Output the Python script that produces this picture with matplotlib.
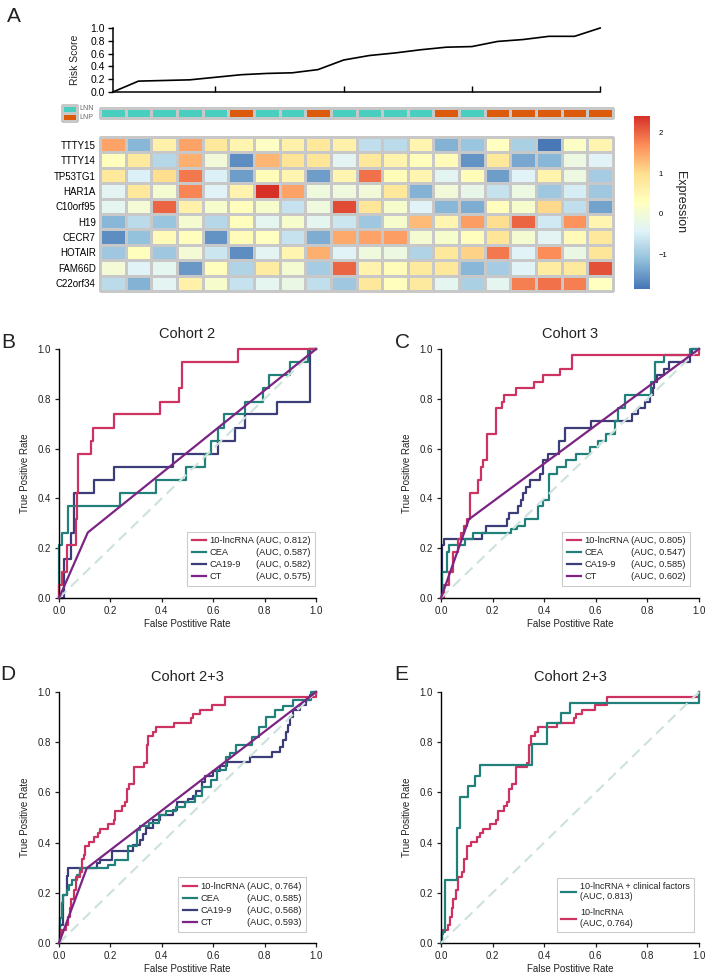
import numpy as np
import matplotlib
matplotlib.use("Agg")
import matplotlib.pyplot as plt
from matplotlib.colors import LinearSegmentedColormap, ListedColormap
from matplotlib.lines import Line2D
from matplotlib.ticker import FormatStrFormatter

plt.rcParams['font.family'] = ['Liberation Sans', 'DejaVu Sans']
plt.rcParams['text.color'] = '#222222'
plt.rcParams['axes.labelcolor'] = '#222222'

# ---------------- data : panel A ----------------
genes = ['TTTY15', 'TTTY14', 'TP53TG1', 'HAR1A', 'C10orf95',
         'H19', 'CECR7', 'HOTAIR', 'FAM66D', 'C22orf34']
groups = ['LNN'] * 5 + ['LNP'] + ['LNN'] * 2 + ['LNP'] + ['LNN'] * 4 + \
         ['LNP'] + ['LNN'] + ['LNP'] * 5
risk_score = [0.00, 0.17, 0.18, 0.19, 0.23, 0.27, 0.29, 0.30, 0.35, 0.50,
              0.57, 0.61, 0.66, 0.70, 0.71, 0.79, 0.82, 0.87, 0.87, 1.00]
expression = [
    [1.5, -1.2, 0.6, 1.5, 0.8, 0.5, 0.2, 0.6, 0.8, 0.6, -0.7, -0.75, 0.5, -1.25, -1.05, 0.25, -0.9, -1.8, 0.2, 0.5],
    [0.3, 0.75, -0.8, 1.4, -0.05, -1.6, 1.35, 0.9, 0.85, -0.35, 0.8, 0.55, 0.3, 0.35, -1.55, 0.8, -1.35, -1.2, -0.15, -0.4],
    [0.8, -0.45, 1.0, 1.85, -0.45, -1.45, 0.35, 0.5, -1.45, 0.5, 1.9, 0.35, 0.5, -0.35, 0.35, -1.45, -0.4, 0.55, -0.15, -0.95],
    [-0.35, 0.8, 0.05, 1.75, -0.4, 0.55, 2.4, 1.5, -0.1, -0.1, -0.05, 0.8, -1.25, -0.05, -0.25, -0.65, -0.15, -1.0, -0.5, -1.0],
    [-0.3, 0.0, 2.0, 0.6, 0.1, 0.3, 0.1, -0.65, -0.1, 2.2, 0.85, 0.1, -0.4, -1.2, -1.3, 0.3, 0.1, 1.05, -0.7, -1.4],
    [-1.2, -0.75, -1.05, 0.05, -0.8, 0.3, -0.3, 0.1, -0.3, -0.6, -1.0, 0.1, 1.3, 0.5, 1.55, 1.0, 2.0, -0.55, 1.65, 0.5],
    [-1.6, -1.1, 0.4, 0.3, -1.55, 0.35, 0.25, -0.65, -1.3, 1.45, 1.5, 1.55, 0.05, 0.1, 0.3, 0.85, 0.05, -0.35, 0.4, 0.8],
    [-1.0, 0.3, -1.0, 0.0, -0.6, -1.6, -0.35, 0.5, 1.4, -0.4, -0.1, -0.15, -0.85, 0.8, 1.1, 1.85, -0.4, 1.7, -0.2, 0.85],
    [0.0, -0.4, -0.3, -1.5, 0.3, -0.85, 0.7, 0.05, -0.95, 2.0, 0.55, 0.35, 0.75, 0.8, -1.2, -0.95, -0.4, 0.7, 0.75, 2.15],
    [-0.75, -1.25, -0.35, 0.6, 0.1, -0.65, -0.3, -0.2, -0.7, -1.0, 0.8, 0.3, 0.75, -0.3, -0.9, -0.3, 1.8, 1.9, 1.8, 0.25],
]
expr_min, expr_max = -1.84, 2.40
cbar_ticks = [-1, 0, 1, 2]
risk_xticks = [4, 9, 14, 19]

# ---------------- data : ROC curves ----------------
c2_lnc_fpr = [0.0, 0.0, 0.010, 0.030, 0.066, 0.070, 0.073, 0.123, 0.134, 0.215, 0.393, 0.467, 0.477, 0.695, 1.0]
c2_lnc_tpr = [0.0, 0.053, 0.105, 0.211, 0.316, 0.421, 0.579, 0.632, 0.684, 0.737, 0.789, 0.842, 0.947, 1.0, 1.0]
c2_cea_fpr = [0.0, 0.0, 0.010, 0.036, 0.237, 0.376, 0.493, 0.568, 0.590, 0.620, 0.642, 0.724, 0.795, 0.818, 0.899, 0.970, 1.0]
c2_cea_tpr = [0.0, 0.211, 0.263, 0.368, 0.421, 0.474, 0.526, 0.579, 0.632, 0.684, 0.737, 0.789, 0.842, 0.895, 0.947, 1.0, 1.0]
c2_ca_fpr = [0.0, 0.021, 0.047, 0.058, 0.137, 0.215, 0.442, 0.620, 0.685, 0.724, 0.847, 0.977, 1.0]
c2_ca_tpr = [0.0, 0.158, 0.263, 0.421, 0.474, 0.526, 0.579, 0.632, 0.684, 0.737, 0.789, 1.0, 1.0]
c2_ct_fpr = [0.0, 0.112, 1.0]
c2_ct_tpr = [0.0, 0.263, 1.0]

c3_lnc_fpr = [0.0, 0.013, 0.032, 0.045, 0.067, 0.077, 0.089, 0.099, 0.112, 0.145, 0.154, 0.164, 0.179, 0.212, 0.235, 0.245, 0.290, 0.361, 0.394, 0.461, 0.506, 1.0]
c3_lnc_tpr = [0.0, 0.053, 0.105, 0.184, 0.237, 0.263, 0.289, 0.316, 0.421, 0.474, 0.526, 0.553, 0.658, 0.763, 0.789, 0.816, 0.842, 0.868, 0.895, 0.921, 0.974, 1.0]
c3_cea_fpr = [0.0, 0.005, 0.022, 0.031, 0.093, 0.125, 0.270, 0.293, 0.325, 0.377, 0.394, 0.419, 0.448, 0.486, 0.525, 0.577, 0.609, 0.641, 0.674, 0.686, 0.712, 0.815, 0.828, 0.863, 0.964, 1.0]
c3_cea_tpr = [0.0, 0.105, 0.184, 0.211, 0.237, 0.263, 0.276, 0.289, 0.316, 0.368, 0.395, 0.500, 0.526, 0.553, 0.579, 0.605, 0.632, 0.658, 0.711, 0.763, 0.816, 0.868, 0.947, 0.974, 1.0, 1.0]
c3_ca_fpr = [0.0, 0.005, 0.012, 0.160, 0.176, 0.254, 0.264, 0.299, 0.312, 0.319, 0.329, 0.345, 0.384, 0.394, 0.415, 0.458, 0.480, 0.581, 0.742, 0.765, 0.790, 0.812, 0.820, 0.825, 0.839, 0.865, 0.884, 0.964, 0.971, 1.0]
c3_ca_tpr = [0.0, 0.211, 0.237, 0.263, 0.289, 0.316, 0.342, 0.368, 0.395, 0.421, 0.447, 0.474, 0.500, 0.553, 0.579, 0.632, 0.684, 0.711, 0.737, 0.763, 0.789, 0.816, 0.842, 0.868, 0.895, 0.921, 0.947, 0.974, 1.0, 1.0]
c3_ct_fpr = [0.0, 0.108, 1.0]
c3_ct_tpr = [0.0, 0.316, 1.0]

c23_lnc_fpr = [0.0, 0.003, 0.009, 0.028, 0.035, 0.041, 0.048, 0.058, 0.065, 0.080, 0.090, 0.099, 0.102, 0.115, 0.138, 0.151, 0.161, 0.190, 0.215, 0.219, 0.244, 0.257, 0.265, 0.274, 0.290, 0.332, 0.342, 0.348, 0.366, 0.377, 0.448, 0.515, 0.522, 0.547, 0.596, 0.645, 1.0]
c23_lnc_tpr = [0.0, 0.035, 0.053, 0.070, 0.105, 0.140, 0.175, 0.211, 0.263, 0.281, 0.333, 0.351, 0.386, 0.404, 0.421, 0.439, 0.456, 0.474, 0.491, 0.526, 0.544, 0.561, 0.614, 0.632, 0.702, 0.719, 0.789, 0.825, 0.842, 0.860, 0.877, 0.895, 0.912, 0.930, 0.947, 0.982, 1.0]
c23_cea_fpr = [0.0, 0.004, 0.010, 0.017, 0.030, 0.039, 0.049, 0.069, 0.082, 0.192, 0.218, 0.270, 0.302, 0.316, 0.350, 0.390, 0.416, 0.455, 0.490, 0.530, 0.555, 0.590, 0.615, 0.650, 0.667, 0.690, 0.750, 0.780, 0.807, 0.840, 0.870, 0.910, 0.980, 1.0]
c23_cea_tpr = [0.0, 0.100, 0.159, 0.193, 0.212, 0.232, 0.252, 0.272, 0.298, 0.312, 0.332, 0.385, 0.450, 0.465, 0.480, 0.510, 0.525, 0.540, 0.560, 0.585, 0.620, 0.650, 0.690, 0.740, 0.755, 0.790, 0.820, 0.860, 0.900, 0.930, 0.945, 0.970, 1.0, 1.0]
c23_ca_fpr = [0.0, 0.004, 0.017, 0.030, 0.036, 0.147, 0.160, 0.205, 0.288, 0.315, 0.328, 0.340, 0.367, 0.393, 0.445, 0.458, 0.503, 0.522, 0.535, 0.555, 0.568, 0.600, 0.626, 0.652, 0.743, 0.827, 0.860, 0.873, 0.883, 0.892, 0.899, 0.912, 0.938, 0.963, 0.976, 0.990, 1.0]
c23_ca_tpr = [0.0, 0.070, 0.190, 0.265, 0.300, 0.318, 0.332, 0.365, 0.390, 0.410, 0.435, 0.460, 0.490, 0.510, 0.530, 0.560, 0.575, 0.585, 0.605, 0.640, 0.665, 0.685, 0.705, 0.720, 0.740, 0.760, 0.780, 0.810, 0.840, 0.870, 0.900, 0.930, 0.950, 0.970, 0.990, 1.0, 1.0]
c23_ct_fpr = [0.0, 0.108, 1.0]
c23_ct_tpr = [0.0, 0.298, 1.0]
c23_comb_fpr = [0.0, 0.003, 0.015, 0.061, 0.074, 0.106, 0.132, 0.151, 0.351, 0.409, 0.467, 0.499, 1.0]
c23_comb_tpr = [0.0, 0.042, 0.250, 0.458, 0.583, 0.625, 0.667, 0.708, 0.792, 0.875, 0.917, 0.958, 1.0]

marker_names = ['10-lncRNA', 'CEA', 'CA19-9', 'CT']
auc_c2 = ['(AUC, 0.812)', '(AUC, 0.587)', '(AUC, 0.582)', '(AUC, 0.575)']
auc_c3 = ['(AUC, 0.805)', '(AUC, 0.547)', '(AUC, 0.585)', '(AUC, 0.602)']
auc_c23 = ['(AUC, 0.764)', '(AUC, 0.585)', '(AUC, 0.568)', '(AUC, 0.593)']
labels_e = ['10-lncRNA + clinical factors\n(AUC, 0.813)', '10-lncRNA\n(AUC, 0.764)']

# ---------------- styles ----------------
C_LNC = '#cc3360'
C_CEA = '#21807a'
C_CA = '#3c3c78'
C_CT = '#7b2483'
C_DIAG = '#cde2dc'
C_LNN = '#48cfbf'
C_LNP = '#db5a0b'
GRID = '#c8c8c8'

W, H = 708, 975
fig = plt.figure(figsize=(W / 100, H / 100), dpi=100)


def add_ax(l, t, r, b):
    return fig.add_axes([l / W, 1 - b / H, (r - l) / W, (b - t) / H])


# ---------------- panel A ----------------
n = len(risk_score)
ax_r = add_ax(112.8, 28, 600.2, 92)
ax_r.plot(np.arange(n), risk_score, color='black', lw=1.2, clip_on=False)
ax_r.set_xlim(0, n - 1)
ax_r.set_ylim(0, 1.0)
ax_r.set_xticks(risk_xticks)
ax_r.set_xticklabels([])
ax_r.set_yticks(np.linspace(0, 1, 6))
ax_r.yaxis.set_major_formatter(FormatStrFormatter('%.1f'))
ax_r.tick_params(axis='x', direction='in', length=4, width=1)
ax_r.tick_params(axis='y', direction='out', length=3.5, width=1, labelsize=7.5, pad=2)
for s in ['top', 'right']:
    ax_r.spines[s].set_visible(False)
for s in ['left', 'bottom']:
    ax_r.spines[s].set_linewidth(1.1)
ax_r.set_ylabel('Risk Score', fontsize=7.5, labelpad=8)

group_code = np.array([[0 if g == 'LNN' else 1 for g in groups]])
grp_cmap = ListedColormap([C_LNN, C_LNP])
ax_a = add_ax(100, 108, 613, 118)
m = ax_a.pcolormesh(group_code, cmap=grp_cmap, vmin=0, vmax=1, edgecolors=GRID, linewidth=1.0)
m.set_clip_on(False)
ax_a.set_xlim(0, n)
ax_a.set_axis_off()

ax_l = add_ax(62, 105, 77, 121)
ml = ax_l.pcolormesh(np.array([[0], [1]]), cmap=grp_cmap, vmin=0, vmax=1, edgecolors=GRID, linewidth=1.0)
ml.set_clip_on(False)
ax_l.set_ylim(2, 0)
ax_l.set_axis_off()
fig.text(79 / W, 1 - 108.5 / H, 'LNN', fontsize=5, color='#666666', va='center', ha='left')
fig.text(79 / W, 1 - 117.5 / H, 'LNP', fontsize=5, color='#666666', va='center', ha='left')

heat_cmap = LinearSegmentedColormap.from_list(
    'rdylbu_r', ['#4575B4', '#91BFDB', '#E0F3F8', '#FFFFBF', '#FEE090', '#FC8D59', '#D73027'])
ax_h = add_ax(100, 137, 613, 291)
mh = ax_h.pcolormesh(np.array(expression), cmap=heat_cmap, vmin=expr_min, vmax=expr_max,
                     edgecolors=GRID, linewidth=1.0)
mh.set_clip_on(False)
ax_h.set_xlim(0, n)
ax_h.set_ylim(len(genes), 0)
ax_h.set_yticks(np.arange(len(genes)) + 0.5)
ax_h.set_yticklabels(genes, fontsize=7)
ax_h.set_xticks([])
ax_h.tick_params(axis='y', length=0, pad=3)
for s in ax_h.spines.values():
    s.set_visible(False)

cax = add_ax(634, 116, 650, 289)
cb = fig.colorbar(mh, cax=cax, ticks=cbar_ticks)
cb.outline.set_visible(False)
cax.tick_params(length=0, labelsize=5.5, pad=6)
fig.text(680 / W, 1 - 202 / H, 'Expression', rotation=270, ha='center', va='center', fontsize=9)

fig.text(14 / W, 1 - 16 / H, 'A', fontsize=15, ha='center', va='center')


# ---------------- ROC panels ----------------
def style_roc(ax, title):
    ax.set_xlim(0, 1)
    ax.set_ylim(0, 1)
    ax.set_xticks(np.linspace(0, 1, 6))
    ax.set_yticks(np.linspace(0, 1, 6))
    ax.xaxis.set_major_formatter(FormatStrFormatter('%.1f'))
    ax.yaxis.set_major_formatter(FormatStrFormatter('%.1f'))
    for s in ['top', 'right']:
        ax.spines[s].set_visible(False)
    for s in ['left', 'bottom']:
        ax.spines[s].set_linewidth(1.0)
    ax.tick_params(labelsize=7, length=3, width=0.9, pad=3, colors='#222222')
    ax.set_xlabel('False Postitive Rate', fontsize=7, labelpad=2)
    ax.set_ylabel('True Positive Rate', fontsize=7, labelpad=5.5)
    ax.set_title(title, fontsize=10.5, pad=8)


def draw_diag(ax):
    ax.plot([0, 1], [0, 1], color=C_DIAG, lw=1.5, dashes=(5, 3), zorder=3, clip_on=False)


def step(ax, fpr, tpr, color, z=2):
    ax.plot(fpr, tpr, drawstyle='steps-post', color=color, lw=1.6, zorder=z, clip_on=False)


def roc_legend(ax, colors, names, aucs, anchor):
    handles = [Line2D([], [], color=c, lw=1.6) for c in colors]
    handles += [Line2D([], [], linestyle='none') for _ in aucs]
    leg = ax.legend(handles, list(names) + list(aucs), ncol=2, loc='lower right',
                    bbox_to_anchor=anchor, borderaxespad=0, fontsize=6.7,
                    handlelength=1.5, handletextpad=0.4, columnspacing=-1.75,
                    labelspacing=0.33, borderpad=0.5, frameon=True, fancybox=False,
                    edgecolor='#cccccc', framealpha=1)
    leg.get_frame().set_linewidth(0.8)
    leg.set_zorder(10)


def cohort_panel(ax, title, lnc, cea, ca, ct, aucs, anchor):
    style_roc(ax, title)
    step(ax, ca[0], ca[1], C_CA)
    step(ax, cea[0], cea[1], C_CEA)
    step(ax, lnc[0], lnc[1], C_LNC)
    draw_diag(ax)
    ax.plot(ct[0], ct[1], color=C_CT, lw=1.6, zorder=4, clip_on=False)
    roc_legend(ax, [C_LNC, C_CEA, C_CA, C_CT], marker_names, aucs, anchor)


ax_b = add_ax(59, 349, 316, 598)
cohort_panel(ax_b, 'Cohort 2', (c2_lnc_fpr, c2_lnc_tpr), (c2_cea_fpr, c2_cea_tpr),
             (c2_ca_fpr, c2_ca_tpr), (c2_ct_fpr, c2_ct_tpr), auc_c2, (0.996, 0.048))

ax_c = add_ax(441, 349, 699, 598)
cohort_panel(ax_c, 'Cohort 3', (c3_lnc_fpr, c3_lnc_tpr), (c3_cea_fpr, c3_cea_tpr),
             (c3_ca_fpr, c3_ca_tpr), (c3_ct_fpr, c3_ct_tpr), auc_c3, (0.965, 0.048))

ax_d = add_ax(59, 692, 316, 943)
cohort_panel(ax_d, 'Cohort 2+3', (c23_lnc_fpr, c23_lnc_tpr), (c23_cea_fpr, c23_cea_tpr),
             (c23_ca_fpr, c23_ca_tpr), (c23_ct_fpr, c23_ct_tpr), auc_c23, (0.961, 0.044))

ax_e = add_ax(441, 692, 699, 943)
style_roc(ax_e, 'Cohort 2+3')
step(ax_e, c23_lnc_fpr, c23_lnc_tpr, C_LNC)
step(ax_e, c23_comb_fpr, c23_comb_tpr, C_CEA)
draw_diag(ax_e)
he = [Line2D([], [], color=C_CEA, lw=1.6), Line2D([], [], color=C_LNC, lw=1.6)]
lege = ax_e.legend(he, labels_e, loc='lower right', bbox_to_anchor=(0.98, 0.044),
                   borderaxespad=0, fontsize=6.5, handlelength=1.7, handletextpad=0.4,
                   labelspacing=0.8, borderpad=0.45, frameon=True, fancybox=False,
                   edgecolor='#cccccc', framealpha=1)
lege.get_frame().set_linewidth(0.8)
lege.set_zorder(10)

for lbl, x, y in [('B', 8, 342), ('C', 402, 343), ('D', 8, 675), ('E', 401, 675)]:
    fig.text(x / W, 1 - y / H, lbl, fontsize=15, ha='center', va='center')

fig.savefig('out.png', dpi=100)
